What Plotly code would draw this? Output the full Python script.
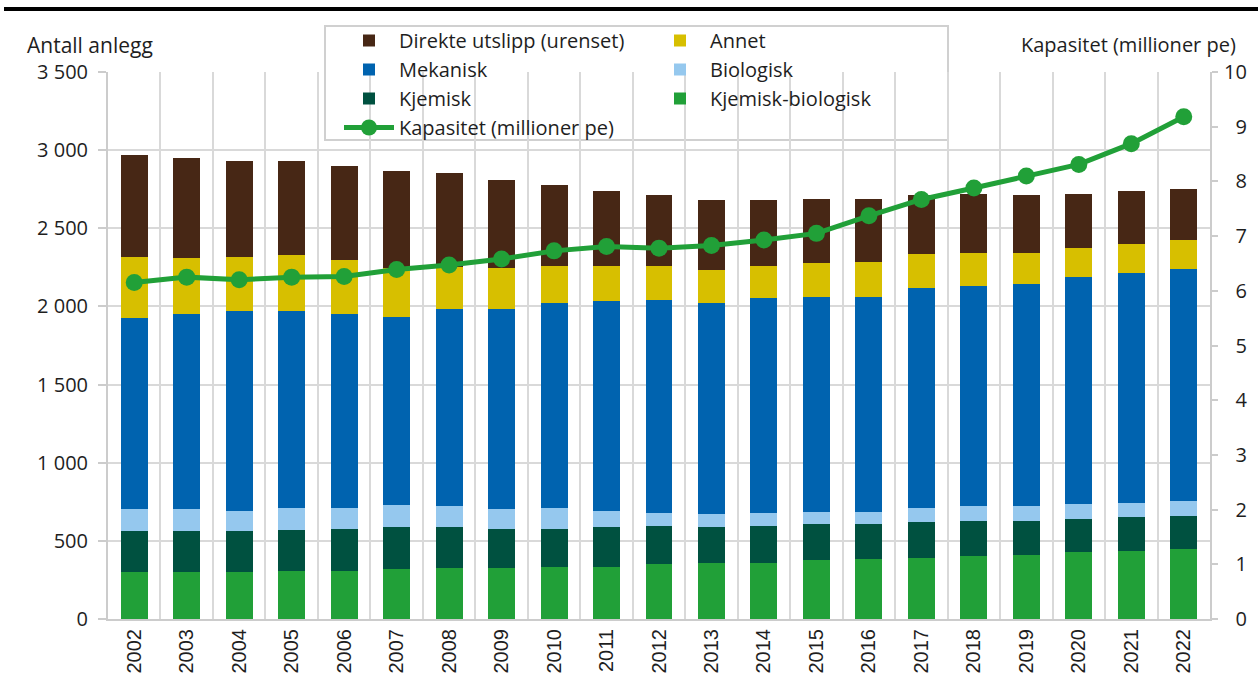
import plotly.graph_objects as go

years = [str(y) for y in range(2002, 2023)]

kjemisk_biologisk = [302, 302, 302, 309, 309, 317, 326, 326, 334, 334, 349, 358, 358, 375, 383, 392, 400, 409, 426, 435, 449]
kjemisk = [260, 260, 260, 262, 270, 271, 262, 253, 245, 254, 247, 230, 238, 230, 222, 230, 228, 219, 211, 219, 213]
biologisk = [141, 141, 132, 140, 132, 141, 132, 124, 132, 106, 82, 81, 82, 81, 81, 89, 92, 92, 100, 89, 90]
mekanisk = [1221, 1247, 1279, 1262, 1239, 1203, 1261, 1278, 1313, 1339, 1363, 1355, 1378, 1376, 1376, 1409, 1408, 1425, 1449, 1468, 1485]
annet = [394, 359, 345, 354, 345, 313, 269, 263, 236, 227, 219, 211, 204, 213, 222, 213, 213, 196, 189, 188, 187]
direkte = [654, 638, 613, 604, 604, 621, 601, 564, 514, 476, 450, 445, 418, 410, 401, 377, 377, 369, 343, 337, 326]
kapasitet = [6.15, 6.25, 6.20, 6.25, 6.26, 6.39, 6.47, 6.58, 6.73, 6.81, 6.78, 6.83, 6.93, 7.05, 7.37, 7.67, 7.88, 8.10, 8.31, 8.69, 9.18]

left_ticks = [0, 500, 1000, 1500, 2000, 2500, 3000, 3500]
left_ticktext = ["0", "500", "1 000", "1 500", "2 000", "2 500", "3 000", "3 500"]
right_ticks = list(range(0, 11))
right_ticktext = ["\u2007" + str(v) if v < 10 else str(v) for v in right_ticks]

C_DIR = "#472715"
C_ANNET = "#D7BF00"
C_MEK = "#0063AF"
C_BIO = "#95C8EE"
C_KJ = "#005140"
C_KB = "#21A038"

FONT = "Open Sans"
TXT = "#1e1e1e"
GRID = "#d9d9d9"
FS = 20

fig = go.Figure()

bar_series = [
    ("Kjemisk-biologisk", kjemisk_biologisk, C_KB, "legend2", 3),
    ("Kjemisk", kjemisk, C_KJ, "legend", 3),
    ("Biologisk", biologisk, C_BIO, "legend2", 2),
    ("Mekanisk", mekanisk, C_MEK, "legend", 2),
    ("Annet", annet, C_ANNET, "legend2", 1),
    ("Direkte utslipp (urenset)", direkte, C_DIR, "legend", 1),
]
for name, vals, col, lg, rank in bar_series:
    fig.add_trace(go.Bar(x=years, y=vals, name=name, marker=dict(color=col, line=dict(width=0)),
                         legend=lg, legendrank=rank, hoverinfo="skip"))

fig.add_trace(go.Scatter(x=years, y=kapasitet, name="Kapasitet (millioner pe)", yaxis="y2",
                         mode="lines+markers", line=dict(color=C_KB, width=5),
                         marker=dict(color=C_KB, size=17), legend="legend", legendrank=4))

# plot area pixel geometry
L, R, T, B = 108, 48, 72, 61
W, H = 1258, 680
pw, ph = W - L - R, H - T - B

def px(x):
    return (x - L) / pw

def py(y):
    return (H - B - y) / ph

fig.update_layout(
    width=W, height=H,
    margin=dict(l=L, r=R, t=T, b=B, autoexpand=False),
    paper_bgcolor="white", plot_bgcolor="white",
    barmode="stack", bargap=0.486,
    font=dict(family=FONT, size=FS, color=TXT),
    xaxis=dict(type="category", range=[-0.5, len(years) - 0.5], tickson="boundaries",
               showgrid=True, gridcolor=GRID, gridwidth=2,
               ticks="", tickangle=-90, showline=True, linecolor="#cccccc", linewidth=2,
               tickfont=dict(family="Liberation Sans", size=20, color=TXT), fixedrange=True),
    yaxis=dict(range=[0, 3500], tickvals=left_ticks, ticktext=left_ticktext, showgrid=True,
               gridcolor=GRID, gridwidth=2, showline=True, linecolor="#cccccc", linewidth=2,
               ticks="outside", ticklen=8, tickcolor="#cccccc", tickwidth=2, zeroline=False,
               ticklabelstandoff=6, tickfont=dict(family=FONT, size=FS, color=TXT)),
    yaxis2=dict(range=[0, 10], overlaying="y", side="right", tickvals=right_ticks,
                ticktext=right_ticktext, showgrid=False, showline=True, linecolor="#cccccc",
                linewidth=2, ticks="outside", ticklen=6, tickcolor="#cccccc", tickwidth=2,
                zeroline=False, ticklabelstandoff=2, tickfont=dict(family=FONT, size=FS, color=TXT)),
    legend=dict(x=px(339), y=py(21), xanchor="left", yanchor="top", bgcolor="rgba(0,0,0,0)",
                borderwidth=0, traceorder="normal", font=dict(family=FONT, size=FS, color=TXT),
                itemwidth=50, tracegroupgap=0),
    legend2=dict(x=px(650), y=py(21), xanchor="left", yanchor="top", bgcolor="rgba(0,0,0,0)",
                 borderwidth=0, traceorder="normal", font=dict(family=FONT, size=FS, color=TXT),
                 itemwidth=50, tracegroupgap=0),
    showlegend=True,
    shapes=[
        dict(type="rect", xref="paper", yref="paper", x0=px(325), x1=px(948), y0=py(140), y1=py(26),
             line=dict(color="#d0d0d0", width=2), fillcolor="white", layer="between"),
        dict(type="line", xref="paper", yref="paper", x0=px(4), x1=px(1258), y0=py(9), y1=py(9),
             line=dict(color="black", width=4)),
    ],
    annotations=[
        dict(text="Antall anlegg", xref="paper", yref="paper", x=px(25), y=py(45), xanchor="left",
             yanchor="middle", showarrow=False, font=dict(family=FONT, size=21, color=TXT)),
        dict(text="Kapasitet (millioner pe)", xref="paper", yref="paper", x=px(1238), y=py(45),
             xanchor="right", yanchor="middle", showarrow=False, font=dict(family=FONT, size=FS, color=TXT)),
    ],
)

fig.write_html("out.html", config={"displayModeBar": False},
               post_script="document.body.style.margin='0';document.body.style.padding='0';")
